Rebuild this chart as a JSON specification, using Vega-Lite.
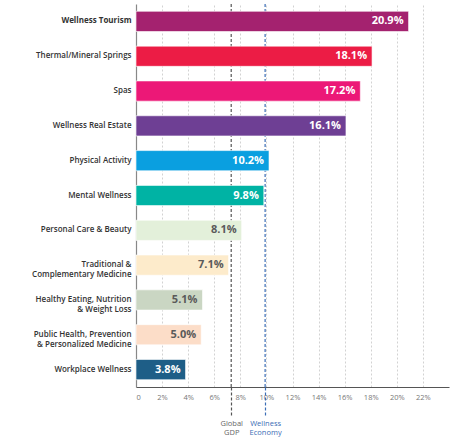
{
  "$schema": "https://vega.github.io/schema/vega-lite/v6.json",
  "width": 313,
  "height": 383,
  "autosize": {"type": "none"},
  "padding": {"left": 136, "top": 4, "right": 7, "bottom": 53},
  "background": "white",
  "config": {"view": {"stroke": null}, "font": "Open Sans"},
  "datasets": {
    "bars": [
      {"cat": "Wellness Tourism", "value": 20.9},
      {"cat": "Thermal/Mineral Springs", "value": 18.1},
      {"cat": "Spas", "value": 17.2},
      {"cat": "Wellness Real Estate", "value": 16.1},
      {"cat": "Physical Activity", "value": 10.2},
      {"cat": "Mental Wellness", "value": 9.8},
      {"cat": "Personal Care & Beauty", "value": 8.1},
      {"cat": "Traditional &|Complementary Medicine", "value": 7.1},
      {"cat": "Healthy Eating, Nutrition|& Weight Loss", "value": 5.1},
      {"cat": "Public Health, Prevention|& Personalized Medicine", "value": 5.0},
      {"cat": "Workplace Wellness", "value": 3.8}
    ],
    "refs": [
      {"name": "Global GDP", "value": 7.3},
      {"name": "Wellness Economy", "value": 9.9}
    ]
  },
  "layer": [
    {
      "data": {"name": "refs"},
      "mark": {"type": "rule", "strokeWidth": 1.2, "strokeDash": [3, 2]},
      "encoding": {
        "x": {
          "field": "value", "type": "quantitative",
          "scale": {"domain": [0, 24], "nice": false},
          "axis": {
            "title": null, "orient": "bottom", "values": [7.3, 9.9],
            "grid": false, "domain": false, "ticks": true,
            "tickSize": 30, "tickDash": [3, 2], "tickWidth": 1.2,
            "tickColor": {"condition": {"test": "datum.value < 8", "value": "#555555"}, "value": "#3A6DB5"},
            "labelColor": {"condition": {"test": "datum.value < 8", "value": "#666666"}, "value": "#3A6DB5"},
            "labelExpr": "datum.value < 8 ? ['Global', 'GDP'] : ['Wellness', 'Economy']",
            "labelFontSize": 7.5, "labelLineHeight": 9, "labelPadding": 2,
            "labelFont": "Open Sans", "zindex": 1
          }
        },
        "stroke": {
          "field": "name", "type": "nominal",
          "scale": {"domain": ["Global GDP", "Wellness Economy"], "range": ["#555555", "#3A6DB5"]},
          "legend": null
        }
      }
    },
    {
      "data": {"name": "bars"},
      "mark": {"type": "bar", "stroke": "white", "strokeOpacity": 0.6, "strokeWidth": 1},
      "encoding": {
        "y": {
          "field": "cat", "type": "nominal", "sort": null,
          "scale": {"paddingInner": 0.42, "paddingOuter": 0.21},
          "axis": {
            "title": null, "ticks": false, "labelPadding": 5,
            "labelExpr": "split(datum.value, '|')",
            "labelFontSize": 8, "labelLineHeight": 10, "labelColor": "#333333",
            "labelFont": "Open Sans",
            "labelFontWeight": {"condition": {"test": "datum.value == 'Wellness Tourism'", "value": "bold"}, "value": 600},
            "domainColor": "#888888", "domainWidth": 1.2, "labelLimit": 200
          }
        },
        "x": {
          "field": "value", "type": "quantitative",
          "scale": {"domain": [0, 24], "nice": false},
          "axis": {
            "title": null, "orient": "bottom", "values": [0, 2, 4, 6, 8, 10, 12, 14, 16, 18, 20, 22],
            "grid": true, "gridDash": [2, 2], "gridColor": "#d2d2d2",
            "ticks": false, "labelPadding": 6, "labelFontSize": 7.5,
            "labelColor": "#777777", "labelFont": "Open Sans",
            "labelExpr": "datum.value == 0 ? '0' : datum.value + '%'",
            "domainColor": "#555555", "domainWidth": 1.2
          }
        },
        "color": {
          "field": "cat", "type": "nominal",
          "scale": {
            "domain": ["Wellness Tourism", "Thermal/Mineral Springs", "Spas", "Wellness Real Estate", "Physical Activity", "Mental Wellness", "Personal Care & Beauty", "Traditional &|Complementary Medicine", "Healthy Eating, Nutrition|& Weight Loss", "Public Health, Prevention|& Personalized Medicine", "Workplace Wellness"],
            "range": ["#A4226F", "#EC1C45", "#EC1877", "#6E3F94", "#0A9FE0", "#00B3A4", "#E3F0DA", "#FDEBCB", "#CAD6C3", "#FCDDC8", "#1E5E87"]
          },
          "legend": null
        }
      }
    },
    {
      "data": {"name": "bars"},
      "transform": [{"calculate": "format(datum.value, '.1f') + '%'", "as": "label"}],
      "mark": {"type": "text", "align": "right", "baseline": "middle", "dx": -5, "font": "Open Sans", "fontWeight": "bold", "fontSize": 11},
      "encoding": {
        "y": {"field": "cat", "type": "nominal", "sort": null},
        "x": {"field": "value", "type": "quantitative", "axis": null},
        "text": {"field": "label"},
        "color": {
          "condition": {"test": "datum.value < 9 && datum.cat != 'Workplace Wellness'", "value": "#5a5a5a"},
          "value": "white"
        }
      }
    }
  ],
  "resolve": {"axis": {"x": "independent"}}
}
